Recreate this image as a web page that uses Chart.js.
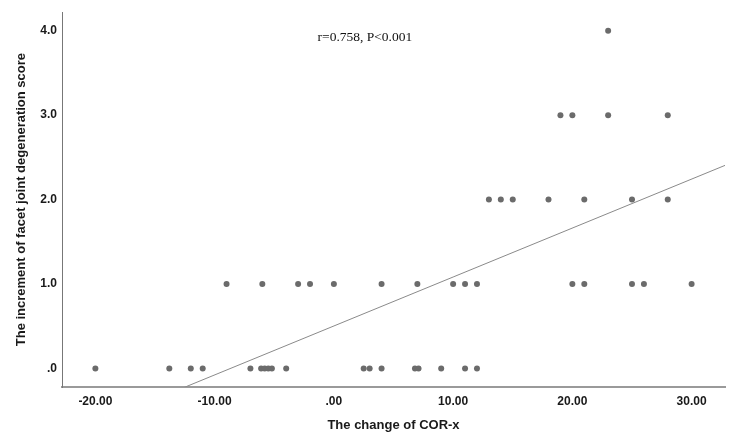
<!DOCTYPE html>
<html>
<head>
<meta charset="utf-8">
<script src="https://cdn.jsdelivr.net/npm/chart.js@4"></script>
<style>
  html, body { margin: 0; padding: 0; background: #fff; }
  #wrap { width: 734px; height: 445px; position: relative; }
</style>
</head>
<body>
<div id="wrap"><canvas id="scatter"></canvas></div>
<script>
// points, one row per score level
const corX = [
  -20, -13.8, -12, -11, -7, -6.1, -5.8, -5.5, -5.2, -4, 2.5, 3, 4, 6.8, 7.1, 9, 11, 12,
  -9, -6, -3, -2, 0, 4, 7, 10, 11, 12, 20, 21, 25, 26, 30,
  13, 14, 15, 18, 21, 25, 28,
  19, 20, 23, 28,
  23,
];
const scoreIncrement = [
  0, 0, 0, 0, 0, 0, 0, 0, 0, 0, 0, 0, 0, 0, 0, 0, 0, 0,
  1, 1, 1, 1, 1, 1, 1, 1, 1, 1, 1, 1, 1, 1, 1,
  2, 2, 2, 2, 2, 2, 2,
  3, 3, 3, 3,
  4,
];

const xTicks = [-20, -10, 0, 10, 20, 30];
const yTicks = [0, 1, 2, 3, 4];
const xRange = [-22.8, 32.8];
const yRange = [-0.22, 4.22];

// fit line as drawn in the figure
const fitSlope = 0.058;
const fitIntercept = 0.503;
const statsLabel = "r=0.758, P<0.001";

(function () {
  const ctx = document.getElementById("scatter").getContext("2d");
  const sans = "'Liberation Sans', Arial, sans-serif";

  const points = corX.map((x, i) => ({ x, y: scoreIncrement[i] }));
  const fitLine = xRange.map((x) => ({ x, y: fitIntercept + fitSlope * x }));

  // SPSS style labels: ".00" instead of "0.00"
  const spssFmt = (digits) => (v) => {
    const s = Number(v).toFixed(digits);
    return s.replace(/^0\./, ".").replace(/^-0\./, "-.");
  };

  const statsText = {
    id: "statsText",
    afterDatasetsDraw(chart) {
      const { ctx, scales } = chart;
      ctx.save();
      ctx.font = "13.5px 'Liberation Serif', 'Times New Roman', serif";
      ctx.fillStyle = "#111";
      ctx.textAlign = "center";
      ctx.textBaseline = "middle";
      ctx.fillText(statsLabel, scales.x.getPixelForValue(2.6), scales.y.getPixelForValue(3.92));
      ctx.restore();
    },
  };

  new Chart(ctx, {
    type: "scatter",
    data: {
      datasets: [
        {
          type: "line",
          data: fitLine,
          borderColor: "#8a8a8a",
          borderWidth: 1,
          pointRadius: 0,
          fill: false,
          order: 2,
        },
        {
          data: points,
          backgroundColor: "#6b6b6b",
          borderWidth: 0,
          pointRadius: 3,
          order: 1,
        },
      ],
    },
    options: {
      responsive: true,
      maintainAspectRatio: false,
      animation: false,
      layout: { padding: { top: 6, right: 9, left: 0, bottom: 0 } },
      plugins: { legend: { display: false }, tooltip: { enabled: false } },
      scales: {
        x: {
          type: "linear",
          min: xRange[0],
          max: xRange[1],
          afterBuildTicks: (s) => { s.ticks = xTicks.map((value) => ({ value })); },
          afterFit: (s) => { s.height = 58; },
          grid: { display: false, drawTicks: false },
          border: { display: true, color: "#9a9a9a", width: 2 },
          ticks: {
            padding: 7,
            color: "#1a1a1a",
            font: { family: sans, size: 12, weight: "bold" },
            callback: spssFmt(2),
          },
          title: {
            display: true,
            text: "The change of COR-x",
            color: "#1a1a1a",
            font: { family: sans, size: 13, weight: "bold" },
            padding: { top: 0, bottom: 12 },
          },
        },
        y: {
          type: "linear",
          min: yRange[0],
          max: yRange[1],
          afterBuildTicks: (s) => { s.ticks = yTicks.map((value) => ({ value })); },
          afterFit: (s) => { s.width = 62; },
          grid: { display: false, drawTicks: false },
          border: { display: true, color: "#777", width: 1 },
          ticks: {
            padding: 5,
            color: "#1a1a1a",
            font: { family: sans, size: 12, weight: "bold" },
            callback: spssFmt(1),
          },
          title: {
            display: true,
            text: "The increment of facet joint degeneration score",
            color: "#1a1a1a",
            font: { family: sans, size: 13, weight: "bold" },
            padding: { top: 14, bottom: 0 },
          },
        },
      },
    },
    plugins: [statsText],
  });
})();
</script>
</body>
</html>
